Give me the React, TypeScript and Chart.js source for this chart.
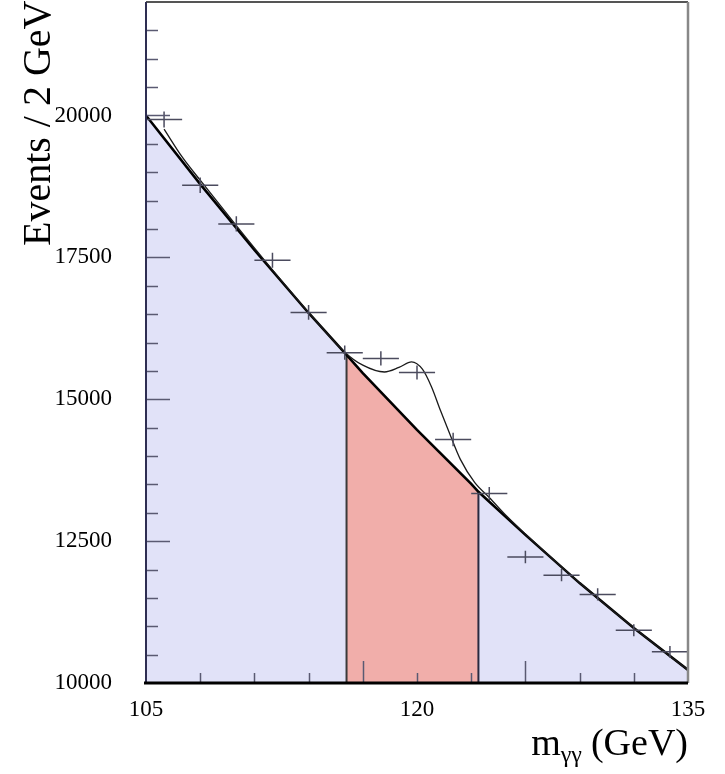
import React, { useEffect, useRef } from "react";
import { Chart, registerables } from "chart.js";

Chart.register(...registerables);

// ---- measured data (diphoton mass spectrum, 2 GeV bins) ----
const binCenters = [106, 108, 110, 112, 114, 116, 118, 120, 122, 124, 126, 128, 130, 132, 134];
const eventCounts = [19930, 18770, 18090, 17450, 16530, 15820, 15720, 15470, 14290, 13340, 12220, 11900, 11560, 10930, 10550];
const countErrors = [140, 137, 134, 132, 129, 126, 125, 124, 120, 115, 111, 109, 108, 105, 103];
const binHalfWidth = 1;

// ---- background-only curve ----
const bgMass = [105, 108, 111, 114, 116.1, 117, 120, 123, 123.4, 126, 129, 132, 135];
const bgEvents = [20000, 18790, 17630, 16520, 15780, 15460, 14460, 13510, 13370, 12610, 11760, 10970, 10230];

// ---- signal + background fit ----
const fitMass = [106, 107, 108, 110, 112, 114, 116, 117, 118.2, 119, 119.7, 120.3, 120.8, 121.3, 121.8, 122.4, 123.2, 124, 125, 126, 128, 130, 132, 134, 135];
const fitEvents = [19760, 19270, 18860, 18060, 17280, 16530, 15830, 15600, 15480, 15560, 15660, 15530, 15220, 14800, 14400, 13940, 13530, 13270, 12930, 12625, 12045, 11495, 10972, 10472, 10230];

// ---- signal window ----
const windowLow = 116.1;
const windowHigh = 123.4;

// ---- axes ----
const xMin = 105;
const xMax = 135;
const yMin = 10000;
const yMax = 22000;
const xTickValues = [105, 108, 111, 114, 117, 120, 123, 126, 129, 132, 135];
const xLongTicks = [117, 126];
const xLabelValues = [105, 120, 135];
const xLabels = ["105", "120", "135"];
const yLabelValues = [10000, 12500, 15000, 17500, 20000];
const yLabels = ["10000", "12500", "15000", "17500", "20000"];
const yMinorStep = 500;

const yTitle = "Events / 2 GeV";
const xTitleMain = "m";
const xTitleSub = "γγ";
const xTitleUnit = "(GeV)";

const LAVENDER = "#e1e2f8";
const SALMON = "#f1aeaa";
const SERIF = "'Liberation Serif', 'DejaVu Serif', serif";

function pts(xs: number[], ys: number[], lo: number, hi: number) {
  const out: { x: number; y: number }[] = [];
  xs.forEach((x, i) => {
    if (x >= lo - 1e-9 && x <= hi + 1e-9) out.push({ x, y: ys[i] });
  });
  return out;
}

function bgAt(m: number) {
  const i = bgMass.indexOf(m);
  return bgEvents[i];
}

const decorPlugin = {
  id: "decor",
  afterDatasetsDraw(chart: any) {
    const ctx: CanvasRenderingContext2D = chart.ctx;
    const xs = chart.scales.x;
    const ys = chart.scales.y;
    const ca = chart.chartArea;
    ctx.save();

    // data crosses
    ctx.strokeStyle = "#4b4b5e";
    ctx.lineWidth = 1.5;
    binCenters.forEach((m, i) => {
      const px = xs.getPixelForValue(m);
      const py = ys.getPixelForValue(eventCounts[i]);
      const x0 = xs.getPixelForValue(m - binHalfWidth);
      const x1 = xs.getPixelForValue(m + binHalfWidth);
      const y0 = ys.getPixelForValue(eventCounts[i] - countErrors[i]);
      const y1 = ys.getPixelForValue(eventCounts[i] + countErrors[i]);
      ctx.beginPath();
      ctx.moveTo(x0, py);
      ctx.lineTo(x1, py);
      ctx.moveTo(px, y0);
      ctx.lineTo(px, y1);
      ctx.stroke();
    });

    // y ticks (inside)
    ctx.strokeStyle = "#5a5a72";
    ctx.lineWidth = 1.5;
    for (let v = yMin + yMinorStep; v < yMax; v += yMinorStep) {
      const py = Math.round(ys.getPixelForValue(v)) + 0.5;
      const major = yLabelValues.includes(v);
      ctx.beginPath();
      ctx.moveTo(ca.left, py);
      ctx.lineTo(ca.left + (major ? 24 : 12), py);
      ctx.stroke();
    }
    // x ticks (inside)
    xTickValues.forEach((v) => {
      if (v === xMin || v === xMax) return;
      const px = Math.round(xs.getPixelForValue(v)) + 0.5;
      const len = xLongTicks.includes(v) ? 22 : 10;
      ctx.beginPath();
      ctx.moveTo(px, ca.bottom);
      ctx.lineTo(px, ca.bottom - len);
      ctx.stroke();
    });

    // frame
    ctx.lineWidth = 2;
    ctx.strokeStyle = "#555555";
    ctx.beginPath();
    ctx.moveTo(ca.left, ca.top);
    ctx.lineTo(ca.right, ca.top);
    ctx.stroke();
    ctx.strokeStyle = "#888888";
    ctx.lineWidth = 2.5;
    ctx.beginPath();
    ctx.moveTo(ca.right, ca.top);
    ctx.lineTo(ca.right, ca.bottom);
    ctx.stroke();
    ctx.strokeStyle = "#2e2e52";
    ctx.lineWidth = 2;
    ctx.beginPath();
    ctx.moveTo(ca.left, ca.top);
    ctx.lineTo(ca.left, ca.bottom);
    ctx.stroke();
    ctx.strokeStyle = "#000000";
    ctx.lineWidth = 3;
    ctx.beginPath();
    ctx.moveTo(ca.left - 2, ca.bottom);
    ctx.lineTo(ca.right, ca.bottom);
    ctx.stroke();

    // tick labels
    ctx.fillStyle = "#000000";
    ctx.font = `23px ${SERIF}`;
    ctx.textAlign = "right";
    ctx.textBaseline = "middle";
    yLabelValues.forEach((v, i) => {
      ctx.fillText(yLabels[i], ca.left - 34, ys.getPixelForValue(v));
    });
    ctx.textAlign = "center";
    xLabelValues.forEach((v, i) => {
      ctx.fillText(xLabels[i], xs.getPixelForValue(v), ca.bottom + 27);
    });

    // axis titles
    ctx.textBaseline = "alphabetic";
    ctx.textAlign = "left";
    ctx.font = `38px ${SERIF}`;
    const unitW = ctx.measureText(xTitleUnit).width;
    const mW = ctx.measureText(xTitleMain).width;
    ctx.font = `24px ${SERIF}`;
    const subW = ctx.measureText(xTitleSub).width;
    const baseY = ca.bottom + 72;
    const unitX = ca.right - unitW;
    const subX = unitX - 9 - subW;
    const mX = subX - mW;
    ctx.font = `38px ${SERIF}`;
    ctx.fillText(xTitleMain, mX, baseY);
    ctx.fillText(xTitleUnit, unitX, baseY);
    ctx.font = `24px ${SERIF}`;
    ctx.fillText(xTitleSub, subX, baseY + 7);

    ctx.save();
    ctx.translate(50, 246);
    ctx.rotate(-Math.PI / 2);
    ctx.font = `40px ${SERIF}`;
    ctx.fillText(yTitle, 0, 0);
    ctx.restore();

    ctx.restore();
  },
};

export default function App() {
  const ref = useRef<HTMLCanvasElement | null>(null);
  useEffect(() => {
    if (!ref.current) return;
    const leftFill = pts(bgMass, bgEvents, xMin, windowLow);
    const midFill = pts(bgMass, bgEvents, windowLow, windowHigh);
    const rightFill = pts(bgMass, bgEvents, windowHigh, xMax);
    const chart = new Chart(ref.current, {
      type: "line",
      data: {
        datasets: [
          {
            label: "fit",
            data: fitMass.map((x, i) => ({ x, y: fitEvents[i] })),
            borderColor: "#1a1a1a",
            borderWidth: 1.3,
            pointRadius: 0,
            fill: false,
            cubicInterpolationMode: "monotone",
            order: 1,
          },
          {
            label: "background",
            data: bgMass.map((x, i) => ({ x, y: bgEvents[i] })),
            borderColor: "#000000",
            borderWidth: 2.6,
            pointRadius: 0,
            fill: false,
            order: 2,
          },
          {
            label: "window low edge",
            data: [
              { x: windowLow, y: yMin },
              { x: windowLow, y: bgAt(windowLow) },
            ],
            borderColor: "#3a3a3a",
            borderWidth: 2,
            pointRadius: 0,
            fill: false,
            order: 3,
          },
          {
            label: "window high edge",
            data: [
              { x: windowHigh, y: yMin },
              { x: windowHigh, y: bgAt(windowHigh) },
            ],
            borderColor: "#2a2a40",
            borderWidth: 2,
            pointRadius: 0,
            fill: false,
            order: 3,
          },
          {
            label: "bg left",
            data: leftFill,
            borderWidth: 0,
            borderColor: "rgba(0,0,0,0)",
            backgroundColor: LAVENDER,
            pointRadius: 0,
            fill: { value: yMin },
            order: 10,
          },
          {
            label: "signal window",
            data: midFill,
            borderWidth: 0,
            borderColor: "rgba(0,0,0,0)",
            backgroundColor: SALMON,
            pointRadius: 0,
            fill: { value: yMin },
            order: 10,
          },
          {
            label: "bg right",
            data: rightFill,
            borderWidth: 0,
            borderColor: "rgba(0,0,0,0)",
            backgroundColor: LAVENDER,
            pointRadius: 0,
            fill: { value: yMin },
            order: 10,
          },
        ],
      },
      options: {
        animation: false,
        responsive: false,
        devicePixelRatio: 1,
        layout: { padding: { left: 146, right: 37, top: 2, bottom: 91 } },
        plugins: { legend: { display: false }, tooltip: { enabled: false } },
        scales: {
          x: { type: "linear", min: xMin, max: xMax, display: false },
          y: { type: "linear", min: yMin, max: yMax, display: false },
        },
      },
      plugins: [decorPlugin],
    } as any);
    return () => chart.destroy();
  }, []);
  return (
    <div style={{ position: "fixed", left: 0, top: 0, width: 725, height: 774, background: "#fff" }}>
      <canvas ref={ref} width={725} height={774} style={{ display: "block" }} />
    </div>
  );
}
